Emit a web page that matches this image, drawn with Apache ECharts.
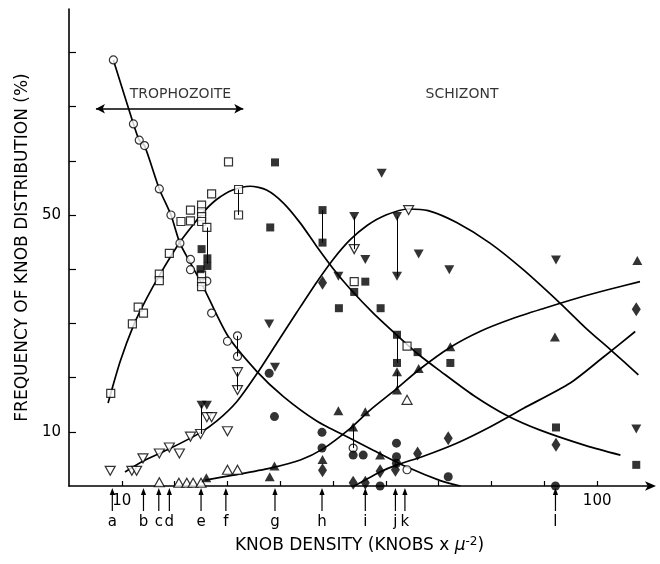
<!DOCTYPE html>
<html>
<head>
<meta charset="utf-8">
<script src="https://cdn.jsdelivr.net/npm/echarts@6/dist/echarts.min.js"></script>
<style>
  html, body { margin: 0; padding: 0; background: #fff; }
  #chart { width: 660px; height: 564px; }
</style>
</head>
<body>
<div id="chart"></div>
<script>
// knob density (x) vs frequency % (y)
var circleOpen = [[8.4,78.6],[12.2,66.8],[13.3,63.8],[14.3,62.8],[17.1,54.8],[19.3,50.0],[21.0,44.8],[23.0,41.8],[23.0,39.9],[26.1,37.8],[27.0,31.9],[30.0,26.7],[31.9,27.7],[31.9,23.9],[53.8,7.0],[64.0,3.0]];
var squareOpen = [[7.9,17.1],[12.0,29.9],[13.1,33.0],[14.1,31.9],[17.1,39.1],[17.1,37.9],[19.0,42.9],[21.2,48.8],[23.0,50.9],[23.0,48.9],[25.1,51.8],[25.1,50.6],[25.1,49.7],[25.1,48.8],[26.1,47.7],[25.1,38.9],[25.1,37.7],[25.1,36.8],[27.0,53.9],[30.2,59.8],[32.1,54.7],[32.1,50.0],[54.0,37.7],[64.0,25.8]];
var squareFilled = [[25.1,43.7],[26.2,42.0],[26.2,40.6],[24.9,40.0],[39.0,59.7],[38.1,47.7],[48.0,50.9],[48.0,44.9],[51.1,32.8],[54.0,35.8],[56.1,37.7],[59.0,32.8],[62.1,27.9],[62.1,22.7],[66.0,24.7],[72.2,22.7],[92.2,10.8],[107.4,3.9]];
var triDownOpen = [[7.8,2.8],[11.9,2.8],[12.8,2.8],[14.0,5.1],[17.1,6.0],[19.0,7.1],[20.9,6.0],[23.0,9.1],[24.9,9.6],[26.1,12.7],[27.0,12.7],[30.0,10.1],[31.9,21.0],[31.9,17.7],[54.0,43.7],[64.3,50.9]];
var triDownFilled = [[25.1,14.9],[26.1,14.9],[37.9,29.9],[39.0,21.9],[51.0,38.7],[59.2,57.7],[54.0,49.7],[62.1,49.7],[56.1,41.8],[62.1,38.7],[66.2,42.8],[72.0,39.9],[92.2,41.7],[107.4,10.5]];
var triUpOpen = [[17.1,0.7],[20.8,0.6],[22.3,0.6],[23.5,0.6],[25.0,0.6],[30.0,3.0],[31.9,3.0],[64.0,15.9]];
var triUpFilled = [[26.0,1.5],[38.0,1.7],[38.9,3.7],[48.0,4.9],[51.0,13.9],[53.8,10.9],[56.1,13.7],[58.9,5.7],[62.1,21.1],[62.1,17.7],[66.2,21.7],[72.2,25.7],[92.0,27.5],[107.6,41.6]];
var circleFilled = [[37.9,20.8],[38.9,12.8],[47.9,9.9],[47.9,7.0],[53.8,5.7],[55.7,5.7],[62.0,7.9],[62.0,5.4],[62.0,4.2],[71.8,1.7],[58.9,0],[92.1,0]];
var diamondFilled = [[48.0,37.5],[48.0,2.9],[53.8,0.6],[56.1,0.6],[58.9,2.7],[61.8,3.0],[66.0,6.0],[71.8,8.8],[92.2,7.6],[107.4,32.6]];

// fitted curves
var curveCircle = [[8.4,78.6],[12.2,66.8],[13.3,63.8],[14.3,62.8],[17.1,54.8],[19.3,50.0],[21.0,44.8],[22.9,41.3],[25.1,37.4],[30.0,27.8],[35.5,21.2],[40.6,16.5],[46.9,12.0],[53.2,8.8],[57.6,6.6],[64.0,3.5],[70.3,1.0],[74.1,0]];
var curveSquare = [[7.4,15.3],[9.7,23.0],[12.2,29.6],[14.7,34.6],[17.2,39.0],[21.0,45.0],[23.5,48.2],[25.8,50.9],[28.0,52.9],[31.0,54.6],[34.3,55.3],[37.4,54.6],[40.6,52.2],[43.8,48.5],[46.9,44.2],[50.1,40.0],[53.2,36.4],[57.6,31.9],[62.0,27.9],[66.0,24.4],[70.3,21.2],[76.6,16.7],[82.9,13.0],[89.2,10.3],[98.0,7.4],[104.4,5.7]];
var curveTriDown = [[10.6,2.6],[14.1,4.6],[19.1,6.9],[24.8,9.8],[28.0,12.0],[31.8,15.6],[35.5,20.6],[39.3,26.3],[43.1,32.0],[46.9,37.6],[50.0,41.8],[53.2,45.4],[56.5,48.1],[60.0,50.0],[64.3,51.1],[68.0,50.8],[73.4,48.6],[79.7,44.8],[86.0,39.9],[93.0,33.7],[98.0,29.0],[102.8,24.9],[107.8,20.5]];
var curveTriUp = [[25.8,1.1],[31.1,2.0],[38.1,3.3],[43.8,4.8],[48.0,6.8],[53.2,10.6],[57.0,14.0],[62.1,18.0],[66.2,21.4],[72.2,25.6],[78.0,28.6],[84.0,30.9],[90.0,32.8],[96.0,34.6],[102.0,36.2],[108.1,37.7]];
var curveDiamond = [[54.0,0],[58.9,2.6],[62.1,3.9],[67.1,5.5],[73.4,7.9],[79.7,10.9],[86.0,14.3],[94.9,19.0],[101.2,23.8],[107.2,28.5]];

// paired readings joined by thin vertical lines: [x, y1, y2]
var connectors = [[32.1,54.7,50.0],[26.1,47.7,41.0],[25.1,14.9,9.6],[31.9,27.7,23.9],[31.9,21.0,17.7],[48.0,50.9,44.9],[54.0,49.7,43.7],[62.1,49.7,38.7],[62.1,27.9,22.7],[62.1,21.1,17.7],[53.8,10.9,7.0]];

// sampling points under the axis
var letterNames = ['a','b','c','d','e','f','g','h','i','j','k','l'];
var letterX = [8.2,14.1,17.0,19.0,25.0,29.7,39.0,47.9,56.1,61.8,63.6,92.1];

var stageNames = ['TROPHOZOITE','SCHIZONT'];
var stageLabelPos = [[21.1,72.2],[74.4,72.3]];
var stageRanges = [[5.1,33.0],[37.7,111.0]];
var stageArrowY = 69.6;

var xTicks = [10,20,30,40,50,60,70,80,90,100];
var xLabels = [10,100];
var yTicks = [10,20,30,40,50,60,70,80];
var yLabels = [10,50];

var FONT = 'DejaVu Sans';
var chart = echarts.init(document.getElementById('chart'));

function curve(data) {
  return {
    type: 'line', data: data, smooth: 0.25, showSymbol: false, silent: true, z: 2,
    lineStyle: { color: '#000', width: 1.7 }
  };
}
function marks(data, symbol, size, filled, rotate) {
  return {
    type: 'scatter', data: data, symbol: symbol, symbolSize: size, symbolRotate: rotate || 0,
    clip: false, z: 4,
    itemStyle: filled ? { color: '#000' } : { color: '#fff', borderColor: '#000', borderWidth: 1.2 }
  };
}

chart.setOption({
  animation: false,
  backgroundColor: '#fff',
  grid: { left: 69, right: 10, top: 9, bottom: 78 },
  xAxis: {
    type: 'value', min: 0, max: 110,
    name: 'KNOB DENSITY (KNOBS x {mu|μ}{sup|-2})',
    nameLocation: 'middle', nameGap: 50,
    nameTextStyle: {
      color: '#000', fontFamily: FONT, fontSize: 17,
      rich: {
        mu: { fontFamily: FONT, fontSize: 17, fontStyle: 'italic', color: '#000' },
        sup: { fontFamily: FONT, fontSize: 12, color: '#000', padding: [0, 0, 8, 0] }
      }
    },
    axisLine: { lineStyle: { color: '#000', width: 1.6 }, symbol: ['none', 'arrow'], symbolSize: [7, 11], symbolOffset: [0, 6] },
    axisTick: { inside: true, length: 5, customValues: xTicks, lineStyle: { color: '#000', width: 1.2 } },
    axisLabel: { customValues: xLabels, color: '#000', fontFamily: FONT, fontSize: 15, margin: 8 },
    splitLine: { show: false }
  },
  yAxis: {
    type: 'value', min: 0, max: 88,
    name: 'FREQUENCY OF KNOB DISTRIBUTION (%)',
    nameLocation: 'middle', nameGap: 34,
    nameTextStyle: { color: '#000', fontFamily: FONT, fontSize: 17 },
    axisLine: { lineStyle: { color: '#000', width: 1.6 } },
    axisTick: { inside: true, length: 7, customValues: yTicks, lineStyle: { color: '#000', width: 1.2 } },
    axisLabel: { customValues: yLabels, color: '#000', fontFamily: FONT, fontSize: 15, margin: 8 },
    splitLine: { show: false }
  },
  series: [
    curve(curveCircle),
    curve(curveSquare),
    curve(curveTriDown),
    curve(curveTriUp),
    curve(curveDiamond),
    {
      type: 'scatter', data: [], silent: true, clip: false,
      markLine: {
        silent: true, symbol: ['none', 'none'], animation: false,
        lineStyle: { color: '#000', type: 'solid', width: 1 },
        label: { show: false },
        data: connectors.map(function (c) { return [{ coord: [c[0], c[1]] }, { coord: [c[0], c[2]] }]; })
      }
    },
    {
      type: 'scatter', data: [], silent: true, clip: false,
      markLine: {
        silent: true, symbol: ['arrow', 'arrow'], symbolSize: [7, 9], animation: false,
        lineStyle: { color: '#000', type: 'solid', width: 1.6 },
        label: { show: false },
        data: stageRanges.map(function (r) { return [{ coord: [r[0], stageArrowY] }, { coord: [r[1], stageArrowY] }]; })
      }
    },
    {
      type: 'scatter', symbolSize: 0, silent: true, clip: false,
      data: stageNames.map(function (n, i) { return { name: n, value: stageLabelPos[i] }; }),
      label: { show: true, position: 'inside', formatter: '{b}', color: '#000', fontFamily: FONT, fontSize: 14 }
    },
    marks(circleOpen, 'circle', 8, false),
    marks(squareOpen, 'rect', 8, false),
    marks(squareFilled, 'rect', 8, true),
    marks(triDownOpen, 'triangle', [10, 9], false, 180),
    marks(triDownFilled, 'triangle', [10, 9], true, 180),
    marks(triUpOpen, 'triangle', [10, 9], false),
    marks(triUpFilled, 'triangle', [10, 9], true),
    marks(circleFilled, 'circle', 9, true),
    marks(diamondFilled, 'diamond', [9, 14], true),
    {
      type: 'custom', silent: true, clip: false,
      data: letterX.map(function (x) { return [x, 0]; }),
      renderItem: function (params, api) {
        var p = api.coord([api.value(0), 0]);
        var x = p[0], y = p[1];
        return {
          type: 'group',
          children: [
            { type: 'line', shape: { x1: x, y1: y + 6, x2: x, y2: y + 25 }, style: { stroke: '#000', lineWidth: 1.2 } },
            { type: 'polygon', shape: { points: [[x, y + 2], [x - 2.6, y + 9], [x + 2.6, y + 9]] }, style: { fill: '#000' } },
            { type: 'text', style: { text: letterNames[params.dataIndex], x: x, y: y + 36, align: 'center', verticalAlign: 'middle', font: '15px "DejaVu Sans"', fill: '#000' } }
          ]
        };
      }
    }
  ]
});
</script>
</body>
</html>
